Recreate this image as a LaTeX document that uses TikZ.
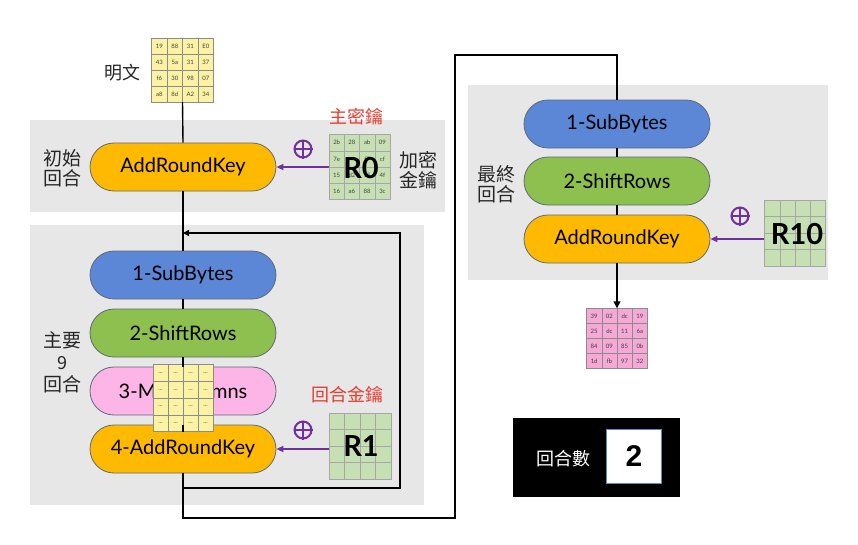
\documentclass[tikz,border=0pt]{standalone}
\usepackage{fontspec}
\setmainfont{Lato}
\newfontfamily\cjk{Noto Sans CJK TC}
\newfontfamily\arialf{Liberation Sans}
\usetikzlibrary{arrows.meta,calc}
\definecolor{panel}{HTML}{E7E7E7}
\definecolor{pblue}{HTML}{5B87D6}
\definecolor{pgreen}{HTML}{8DC04E}
\definecolor{ppink}{HTML}{FDB5E8}
\definecolor{porange}{HTML}{FFBA00}
\definecolor{pedge}{HTML}{5F6A78}
\definecolor{cyel}{HTML}{FBF3A3}
\definecolor{cgreen}{HTML}{C6E0B4}
\definecolor{cpink}{HTML}{F6A8D6}
\definecolor{kpurple}{HTML}{7030A0}
\definecolor{kred}{HTML}{E83A2E}
\newcommand\td{...}
\newcommand\bv{}
\newcommand\hexgrid[7]{% name, center, cell w, cell h, fill, edge, values
  \node[inner sep=0pt, minimum width=#3*4, minimum height=#4*4] (#1) at (#2) {};
  \foreach \v [count=\i from 0] in {#7} {
    \pgfmathtruncatemacro\col{mod(\i,4)}
    \pgfmathtruncatemacro\row{div(\i,4)}
    \node[draw=#6, fill=#5, line width=0.5pt, minimum width=#3, minimum height=#4,
      inner sep=0pt, font=\fontsize{6}{7}\selectfont, text=black!75, anchor=north west]
      (#1-\i) at ($(#1.north west)+(\col*#3,\row*#4)$) {\v};
  }
}
\newcommand\xorsym[2]{% name, position
  \node[circle, draw=kpurple, line width=2pt, minimum size=17pt, inner sep=0pt] (#1) at (#2) {};
  \draw[kpurple, line width=2pt] (#1.north) -- (#1.south) (#1.west) -- (#1.east);
}
\tikzset{
  pill/.style={draw=pedge, line width=0.8pt, rounded corners=24pt, minimum width=186pt,
    minimum height=48pt, inner sep=0pt, font=\fontsize{20}{24}\selectfont},
  panelbox/.style={fill=panel, draw=none},
  flow/.style={line width=1.4pt, black},
  keyarrow/.style={line width=1.6pt, kpurple, -{Triangle[length=7pt,width=6pt]}},
  cjklab/.style={font=\cjk\fontsize{19}{24}\selectfont, align=center, text=black!85},
  redlab/.style={font=\cjk\fontsize{18}{22}\selectfont, text=kred},
  bigR/.style={font=\fontsize{29}{31}\selectfont\bfseries, inner sep=0pt}
}
\begin{document}
\begin{tikzpicture}[x=1pt,y=-1pt]
\useasboundingbox (0,0) rectangle (858,544);
\fill[white] (0,0) rectangle (858,544);

% panels
\fill[panelbox] (30,120) rectangle (445,212);
\fill[panelbox] (30,225) rectangle (424,505);
\fill[panelbox] (468,85) rectangle (828,280);

% plaintext
\hexgrid{pt}{182.5,70}{15.5}{16}{cyel}{black!45}{19,88,31,E0,43,5a,31,37,f6,30,98,07,a8,8d,A2,34}
\node[cjklab, font=\cjk\fontsize{18}{22}\selectfont] (ptlab) at (122,73) {明文};

% initial round
\node[pill, fill=porange] (ark0) at (183,167) {AddRoundKey};
\node[cjklab] (initlab) at (62,168) {初始\\[-4pt]回合};
\hexgrid{k0}{359.5,167}{15.25}{16.25}{cgreen}{black!35}{2b,28,ab,09,7e,ae,f7,cf,15,d2,15,4f,16,a6,88,3c}
\node[bigR] (r0) at (361,168) {R0};
\node[redlab] (k0lab) at (356,117) {主密鑰};
\node[cjklab] (enclab) at (418,170) {加密\\[-4pt]金鑰};
\xorsym{x0}{303,149}
\draw[keyarrow] (k0.west |- ark0.east) -- (ark0.east);

% main rounds
\node[pill, fill=pblue] (sb) at (183,275) {1-SubBytes};
\node[pill, fill=pgreen] (sr) at (183,333) {2-ShiftRows};
\node[pill, fill=ppink] (mc) at (183,391) {3-MixColumns};
\node[pill, fill=porange] (ark) at (183,449) {4-AddRoundKey};
\hexgrid{mx}{183,398}{15}{16.7}{cyel}{black!45}{\td,\td,\td,\td,\td,\td,\td,\td,\td,\td,\td,\td,\td,\td,\td,\td}
\node[cjklab] (mainlab) at (62,362) {主要\\[-2pt]\fontsize{18}{20}\selectfont 9\\[-2pt]回合};
\node[redlab] (k1lab) at (347,395) {回合金鑰};
\hexgrid{k1}{360,446}{15.5}{16.5}{cgreen}{black!35}{\bv,\bv,\bv,\bv,\bv,\bv,\bv,\bv,\bv,\bv,\bv,\bv,\bv,\bv,\bv,\bv}
\node[bigR] (r1) at (361,446) {R1};
\xorsym{x1}{303,430}
\draw[keyarrow] (k1.west |- ark.east) -- (ark.east);

% final round
\node[pill, fill=pblue] (fsb) at (617,124) {1-SubBytes};
\node[pill, fill=pgreen] (fsr) at (617,181) {2-ShiftRows};
\node[pill, fill=porange] (fark) at (617,239) {AddRoundKey};
\node[cjklab] (finlab) at (496,184) {最終\\[-4pt]回合};
\hexgrid{k10}{795,233}{15.25}{16.5}{cgreen}{black!35}{\bv,\bv,\bv,\bv,\bv,\bv,\bv,\bv,\bv,\bv,\bv,\bv,\bv,\bv,\bv,\bv}
\node[bigR] (r10) at (797,234) {R10};
\xorsym{x10}{740,216}
\draw[keyarrow] (k10.west |- fark.east) -- (fark.east);

% output
\hexgrid{out}{617,338.5}{15.25}{15}{cpink}{black!45}{39,02,dc,19,25,dc,11,6a,84,09,85,0b,1d,fb,97,32}

% flow lines
\coordinate (loopin) at (183,233);
\coordinate (loopout) at (183,488);
\draw[flow] (pt.south) -- (ark0.north);
\draw[flow] (ark0.south) -- (sb.north);
\draw[flow] (sb.south) -- (sr.north);
\draw[flow] (sr.south) -- (mc.north);
\draw[flow] (mx.south) -- (ark.north);
\draw[flow] (ark.south) -- (183,518) -- (455,518) -- (455,55) -- (617,55) -- (fsb.north);
\draw[flow, -{Triangle[length=6pt,width=6pt]}] (loopout) -- (400,488) -- (400,233) -- (loopin);
\draw[flow] (fsb.south) -- (fsr.north);
\draw[flow] (fsr.south) -- (fark.north);
\draw[flow, -{Triangle[length=7pt,width=7pt]}] (fark.south) -- (out.north);

% round counter
\node[fill=black, minimum width=167pt, minimum height=79pt, inner sep=0pt] (ctr) at (596,457) {};
\node[font=\cjk\fontsize{18}{22}\selectfont, text=white] (ctrlab) at (563,459) {回合數};
\node[fill=white, draw=pblue, line width=0.6pt, minimum width=55pt, minimum height=54pt,
  font=\arialf\fontsize{30}{32}\selectfont\bfseries] (ctrval) at (634,456) {2};
\end{tikzpicture}
\end{document}
